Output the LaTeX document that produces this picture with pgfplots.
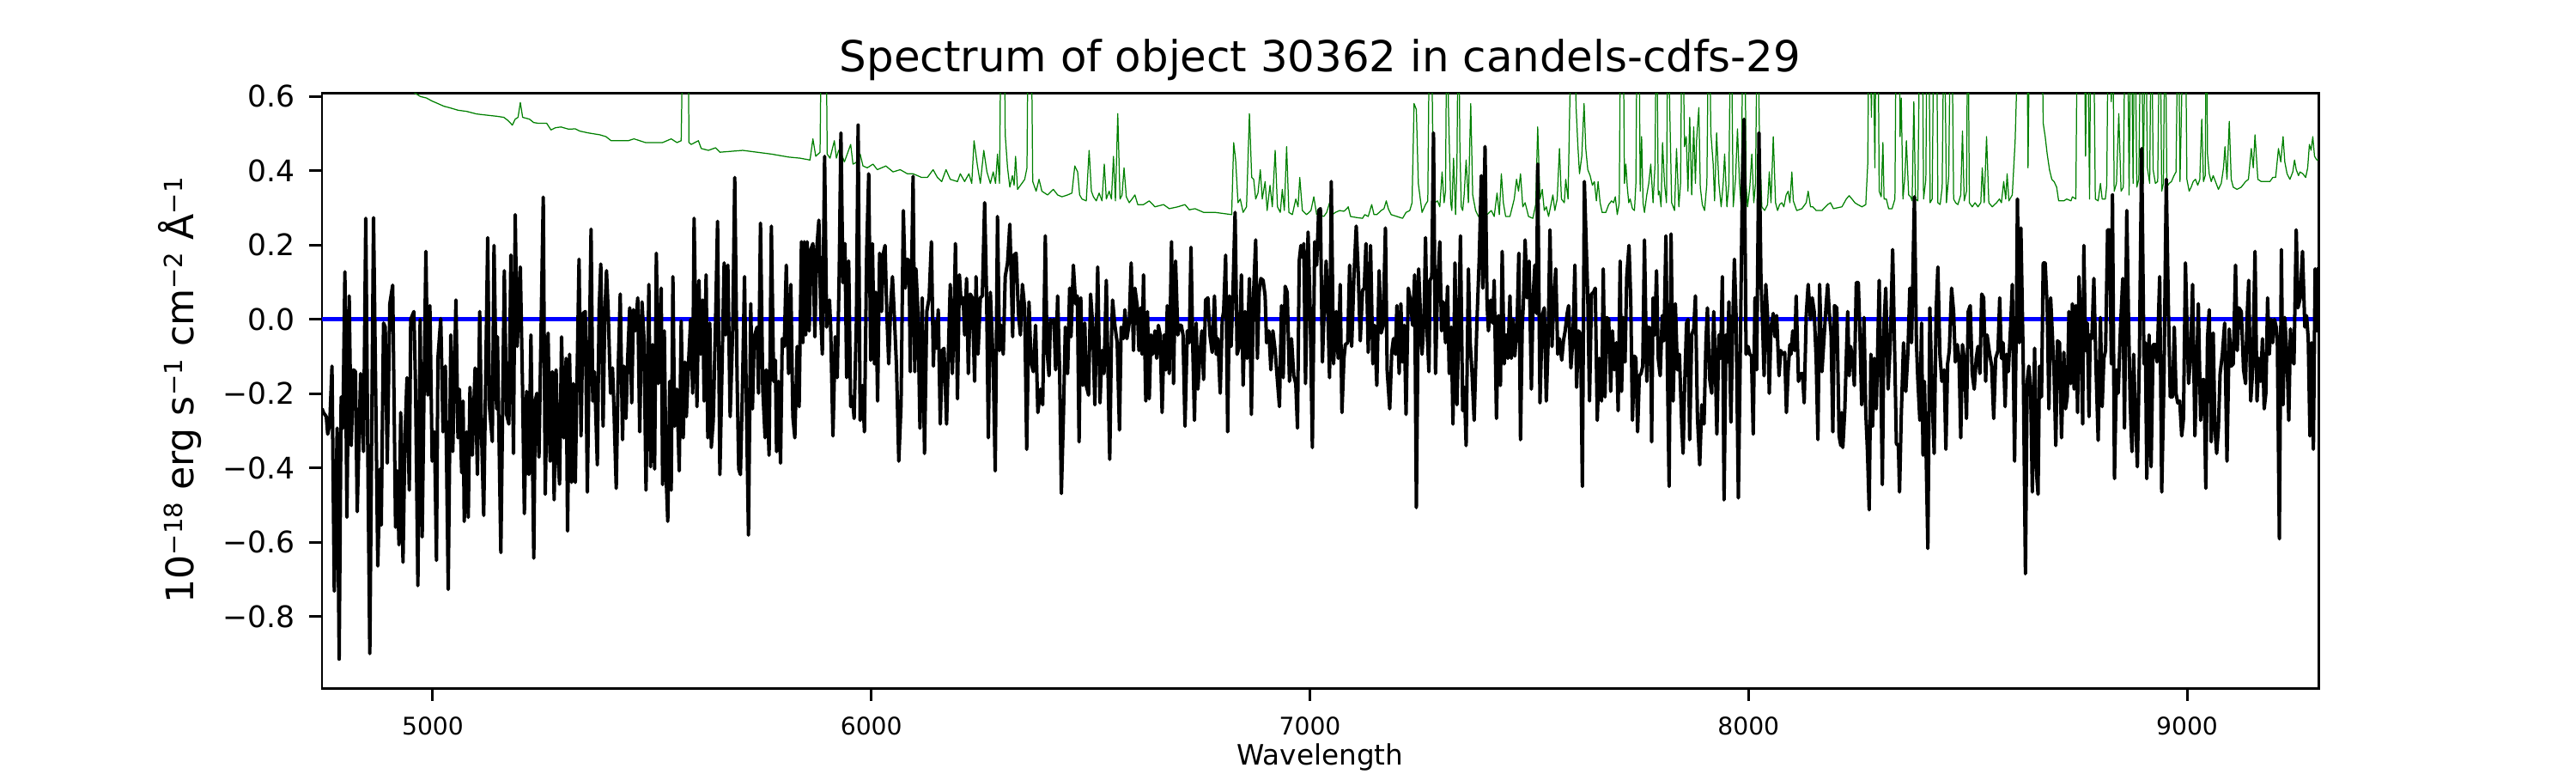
\documentclass[border=0pt]{standalone}
\usepackage{fontspec}
\setmainfont{DejaVu Sans}
\usepackage{pgfplots}
\usepackage{pgfplotstable}
\pgfplotsset{compat=1.18}
\definecolor{mplgreen}{RGB}{0,128,0}
\newcommand\supx[1]{\raisebox{5pt}{\fontsize{10.5}{12}\selectfont #1}}

\pgfplotstableread{
x y
4747.5 -0.240
4750.8 -0.251
4757.3 -0.262
4760.5 -0.309
4765.1 -0.282
4770.3 -0.126
4775.5 -0.732
4782.1 -0.293
4786.6 -0.915
4791.2 -0.209
4795.1 -0.293
4799.7 0.128
4804.3 -0.533
4809.5 0.063
4814.1 -0.340
4819.3 -0.136
4823.8 -0.141
4827.8 -0.518
4835.6 -0.146
4842.1 -0.356
4847.3 0.272
4851.9 -0.356
4856.5 -0.900
4865.0 0.274
4870.2 -0.220
4874.7 -0.664
4880.0 -0.403
4882.6 -0.554
4887.8 -0.010
4891.7 -0.021
4896.3 -0.387
4902.2 0.042
4908.7 0.092
4915.2 -0.560
4919.1 -0.408
4923.0 -0.607
4927.0 -0.251
4932.2 -0.654
4936.7 -0.314
4941.3 -0.157
4946.5 -0.460
4949.8 0.000
4957.0 0.021
4960.9 -0.188
4966.1 -0.717
4971.3 0.000
4975.9 -0.586
4980.5 -0.157
4984.4 0.183
4988.9 -0.204
4993.5 0.037
4998.7 -0.382
5004.0 -0.303
5008.5 -0.649
5011.8 -0.105
5018.3 0.002
5023.5 -0.303
5028.8 -0.126
5035.3 -0.727
5041.2 -0.042
5045.7 -0.356
5052.9 0.052
5057.5 -0.319
5060.7 -0.188
5066.0 -0.413
5069.2 -0.220
5071.8 -0.544
5077.1 -0.303
5081.0 -0.533
5084.9 -0.183
5090.1 -0.366
5096.6 -0.131
5101.9 -0.418
5107.1 0.021
5111.0 -0.293
5116.2 -0.528
5125.3 0.220
5129.3 -0.235
5135.8 -0.329
5139.7 0.199
5145.6 -0.241
5147.5 -0.047
5155.3 -0.628
5163.2 0.131
5168.4 -0.256
5173.6 -0.282
5178.2 0.173
5184.1 -0.361
5188.0 0.282
5192.6 -0.073
5199.7 0.141
5205.0 -0.199
5208.9 -0.523
5214.1 -0.194
5219.3 -0.418
5223.9 -0.042
5230.4 -0.643
5233.7 -0.220
5237.6 -0.199
5242.2 -0.371
5252.0 0.329
5256.5 -0.471
5263.0 -0.037
5267.6 -0.382
5272.8 -0.141
5276.8 -0.486
5281.3 -0.136
5285.9 -0.382
5289.2 -0.444
5293.7 -0.047
5298.9 -0.319
5304.2 -0.105
5307.4 -0.570
5312.0 -0.094
5316.5 -0.439
5320.5 -0.173
5325.0 -0.439
5333.6 0.162
5338.1 -0.314
5342.7 0.016
5347.9 0.021
5352.5 -0.465
5356.4 -0.136
5361.0 0.243
5364.9 -0.220
5368.8 -0.141
5375.3 -0.392
5379.3 0.026
5383.2 0.149
5388.4 -0.288
5392.3 0.010
5396.2 0.131
5400.1 0.021
5405.4 -0.199
5409.9 -0.131
5413.2 -0.241
5418.4 -0.455
5423.0 -0.126
5427.5 0.068
5432.8 -0.324
5436.0 -0.126
5440.6 -0.267
5444.5 -0.105
5449.1 0.031
5453.7 -0.225
5457.6 0.026
5462.1 -0.031
5467.4 0.058
5471.9 -0.303
5477.1 0.047
5481.7 -0.052
5486.3 -0.460
5492.8 0.094
5496.7 -0.397
5501.3 -0.068
5505.9 -0.403
5509.8 0.178
5514.3 -0.173
5520.9 0.084
5524.1 -0.445
5528.0 -0.031
5532.0 -0.418
5535.9 -0.544
5540.4 -0.167
5543.7 -0.460
5547.6 0.115
5551.5 -0.288
5556.8 -0.188
5562.0 -0.408
5566.5 -0.005
5571.1 -0.319
5575.0 -0.115
5578.3 -0.262
5582.9 -0.126
5588.1 0.000
5592.7 -0.199
5595.9 0.272
5602.4 -0.235
5607.0 0.105
5610.9 -0.094
5615.5 0.052
5618.8 -0.220
5623.3 0.120
5627.2 -0.319
5631.8 -0.010
5635.1 -0.345
5639.6 -0.272
5644.9 0.000
5649.4 0.264
5654.7 -0.418
5659.9 -0.115
5664.4 0.152
5667.7 -0.042
5672.9 0.146
5678.1 -0.262
5684.0 -0.026
5688.6 0.382
5693.8 -0.146
5697.7 -0.403
5701.6 -0.418
5706.9 -0.146
5710.8 0.115
5714.7 -0.188
5719.9 -0.581
5725.1 0.042
5729.0 -0.241
5733.0 -0.047
5739.5 -0.021
5742.8 -0.199
5747.3 0.259
5752.5 -0.188
5757.8 -0.319
5760.4 -0.136
5766.9 -0.366
5772.1 0.251
5777.3 -0.167
5781.3 -0.110
5783.9 -0.356
5788.4 -0.167
5793.0 -0.387
5796.9 -0.052
5801.5 -0.073
5806.1 0.146
5811.3 -0.146
5816.5 0.094
5821.1 -0.262
5825.6 -0.319
5830.9 -0.073
5835.4 -0.235
5840.7 0.209
5843.9 -0.063
5847.2 0.209
5850.4 -0.042
5853.7 0.209
5858.3 -0.031
5862.2 0.188
5866.8 0.204
5871.3 -0.047
5875.2 0.183
5880.4 0.267
5885.0 0.000
5888.3 -0.094
5893.5 0.439
5898.1 -0.021
5904.6 0.052
5907.3 -0.021
5912.5 -0.314
5917.7 -0.047
5922.3 -0.157
5926.8 0.126
5930.7 0.502
5935.3 0.099
5939.9 0.204
5943.8 -0.157
5948.4 0.157
5952.9 -0.235
5956.9 -0.209
5960.8 -0.267
5966.0 0.000
5969.9 0.523
5974.5 -0.272
5979.7 -0.178
5984.3 -0.303
5989.5 0.188
5994.1 0.392
5998.6 -0.110
6002.5 0.204
6007.1 -0.120
6010.4 0.073
6014.3 -0.220
6018.9 0.178
6023.4 0.021
6026.7 0.173
6031.3 0.199
6035.2 0.021
6039.7 -0.120
6044.3 0.042
6048.2 0.115
6052.8 0.000
6057.4 -0.126
6062.6 -0.382
6067.8 -0.230
6073.0 0.293
6077.6 0.084
6082.2 0.162
6086.1 0.157
6088.7 -0.141
6091.9 0.126
6095.2 0.385
6099.1 -0.141
6101.7 0.136
6106.3 0.021
6110.9 -0.293
6116.1 0.058
6121.3 -0.361
6126.5 0.021
6131.8 0.058
6137.0 0.209
6141.5 -0.126
6144.8 -0.005
6148.7 -0.078
6152.6 0.026
6157.2 -0.282
6161.8 -0.084
6165.7 -0.078
6171.6 -0.282
6176.8 -0.042
6180.0 0.094
6184.6 -0.146
6187.9 -0.042
6191.8 0.204
6196.4 -0.214
6200.9 0.120
6204.8 0.042
6209.4 0.058
6212.7 -0.042
6217.2 0.110
6221.2 -0.146
6225.7 0.068
6230.3 0.058
6235.5 -0.167
6238.8 0.115
6243.3 -0.094
6248.6 0.058
6253.1 0.063
6258.4 0.314
6262.9 0.058
6266.8 -0.319
6271.4 0.073
6277.9 -0.120
6282.5 -0.408
6287.7 0.277
6292.3 -0.084
6296.2 -0.016
6300.8 -0.094
6305.3 0.115
6310.6 0.152
6315.8 0.256
6319.0 0.115
6322.3 -0.047
6324.9 0.173
6330.1 0.178
6335.4 0.016
6339.9 -0.042
6344.5 0.094
6349.7 0.031
6354.3 -0.350
6359.5 0.047
6364.1 -0.115
6369.3 -0.141
6374.5 -0.016
6379.7 -0.251
6385.6 -0.188
6390.8 -0.230
6396.7 0.225
6400.6 -0.084
6405.2 -0.152
6408.4 0.000
6412.4 -0.010
6416.3 0.000
6420.2 -0.136
6424.8 0.063
6429.3 -0.136
6433.3 -0.469
6437.8 -0.272
6442.4 -0.021
6447.6 -0.146
6452.2 0.084
6455.4 -0.047
6460.6 0.146
6465.9 0.042
6469.8 0.063
6473.7 -0.330
6477.6 0.058
6482.2 -0.178
6486.8 -0.010
6490.1 -0.178
6495.3 -0.204
6499.9 0.068
6504.4 -0.010
6509.7 -0.230
6512.9 -0.042
6516.2 0.141
6521.4 -0.225
6526.0 -0.084
6530.5 -0.146
6535.8 0.105
6539.7 -0.146
6543.6 -0.377
6547.5 -0.052
6550.1 0.052
6555.3 -0.016
6560.6 -0.063
6565.8 -0.298
6569.7 -0.021
6574.9 -0.052
6578.2 0.026
6582.7 -0.052
6588.0 -0.010
6592.5 0.152
6597.8 -0.084
6601.0 0.084
6606.2 0.037
6610.2 -0.084
6614.1 0.031
6617.3 -0.094
6620.6 0.120
6625.8 -0.220
6629.7 0.021
6633.7 -0.214
6637.6 -0.042
6641.5 -0.094
6646.7 -0.031
6650.6 -0.105
6654.5 -0.016
6658.5 -0.042
6663.0 -0.251
6667.6 -0.042
6671.5 -0.136
6674.8 0.037
6679.3 -0.146
6684.5 0.209
6689.1 -0.173
6693.7 0.157
6698.9 -0.042
6702.8 -0.016
6706.7 -0.016
6710.7 -0.042
6715.2 -0.288
6720.4 -0.031
6725.0 -0.063
6728.9 0.194
6732.8 -0.068
6736.8 -0.272
6740.7 -0.010
6744.6 -0.188
6749.2 -0.094
6753.7 -0.031
6757.6 -0.162
6762.2 0.052
6767.4 0.058
6772.0 -0.042
6777.2 -0.089
6782.4 0.063
6786.4 -0.094
6790.3 -0.052
6795.5 -0.199
6800.1 0.000
6803.3 0.021
6807.9 0.173
6812.5 -0.303
6816.4 0.063
6820.3 -0.073
6824.2 0.058
6829.4 0.288
6834.0 -0.094
6839.2 -0.073
6843.8 0.120
6847.7 -0.178
6852.3 0.021
6856.8 -0.105
6862.1 0.110
6866.6 -0.256
6871.2 0.058
6876.4 0.214
6880.3 -0.105
6884.2 0.073
6888.2 0.110
6893.4 0.105
6897.9 0.063
6901.2 -0.063
6906.4 -0.031
6911.0 -0.136
6915.6 -0.031
6920.8 -0.084
6925.4 -0.157
6930.6 -0.235
6935.2 0.037
6939.1 -0.157
6943.6 0.089
6948.2 0.073
6953.4 -0.167
6958.0 -0.052
6963.2 -0.152
6967.8 -0.173
6971.7 -0.293
6975.6 0.157
6979.5 0.199
6982.8 0.167
6986.1 0.204
6990.0 -0.173
6995.8 0.235
7000.4 0.037
7005.6 -0.345
7010.9 0.209
7015.4 0.146
7020.0 0.293
7023.9 0.298
7028.5 -0.115
7033.0 0.042
7037.0 0.157
7040.9 0.021
7044.8 -0.157
7048.7 0.371
7053.9 -0.120
7060.0 0.021
7064.5 -0.105
7069.1 0.094
7073.0 -0.251
7077.6 -0.105
7080.8 -0.068
7086.1 -0.063
7090.6 0.146
7095.2 -0.073
7100.4 0.115
7105.6 0.251
7110.2 0.126
7114.8 -0.058
7120.0 0.078
7123.9 0.084
7127.8 0.204
7133.0 -0.089
7138.3 0.199
7143.5 -0.120
7147.4 -0.016
7152.6 -0.178
7157.8 0.131
7162.4 -0.037
7167.0 -0.016
7172.2 0.246
7176.1 -0.136
7182.0 -0.241
7186.6 -0.089
7190.5 -0.052
7195.0 -0.094
7198.3 0.037
7203.5 -0.146
7207.4 0.042
7211.4 -0.115
7215.3 -0.016
7219.2 -0.256
7224.4 0.084
7229.6 0.047
7234.2 -0.016
7238.8 0.120
7242.7 -0.507
7247.9 0.136
7251.8 0.021
7255.7 -0.094
7260.3 0.005
7263.6 0.220
7267.5 -0.042
7271.4 -0.141
7274.0 0.105
7277.9 0.115
7281.8 0.502
7286.4 -0.146
7291.0 0.084
7296.2 0.209
7300.1 -0.031
7304.0 0.047
7309.2 -0.063
7313.8 0.089
7317.7 -0.146
7322.3 -0.021
7326.2 -0.282
7330.8 0.152
7335.3 -0.230
7339.3 -0.031
7343.2 0.225
7348.4 -0.246
7352.3 -0.183
7356.2 -0.340
7361.4 0.136
7365.4 -0.063
7369.3 -0.136
7374.5 -0.272
7381.0 0.000
7386.2 0.167
7390.8 0.387
7394.1 0.084
7399.3 0.465
7403.9 0.042
7407.1 -0.031
7412.3 0.052
7416.9 -0.010
7420.2 0.105
7425.4 -0.267
7429.9 0.010
7434.5 -0.178
7438.4 0.183
7443.0 -0.120
7447.6 -0.042
7451.5 -0.105
7456.1 0.063
7459.3 -0.105
7463.2 0.000
7467.2 -0.099
7472.4 -0.010
7476.3 0.178
7480.2 -0.324
7484.1 -0.021
7486.7 0.042
7490.7 0.214
7495.2 0.058
7499.8 0.157
7505.0 -0.188
7508.9 0.058
7512.9 0.146
7516.8 0.016
7519.4 0.418
7524.6 -0.225
7529.8 0.010
7534.4 0.031
7539.0 -0.220
7542.9 -0.073
7547.4 0.241
7552.0 -0.073
7555.9 0.047
7560.5 0.136
7565.1 -0.094
7569.0 -0.052
7574.2 -0.110
7578.1 -0.058
7582.0 -0.031
7586.6 0.016
7589.9 0.037
7595.1 -0.131
7599.6 -0.052
7604.2 0.146
7608.1 -0.183
7612.7 -0.031
7617.3 -0.042
7621.2 -0.450
7625.8 0.371
7633.6 0.058
7637.5 -0.220
7642.1 0.068
7646.7 0.073
7650.6 0.084
7655.2 -0.272
7659.7 -0.105
7665.0 -0.220
7668.9 0.136
7672.8 -0.209
7676.7 0.005
7681.3 0.000
7685.8 -0.194
7689.8 -0.031
7694.3 -0.136
7698.9 -0.063
7702.8 -0.246
7707.4 0.157
7710.6 -0.194
7714.6 0.005
7718.5 -0.115
7722.4 0.115
7727.6 0.199
7731.5 0.052
7735.4 -0.272
7740.0 -0.099
7743.3 -0.105
7747.2 -0.303
7751.1 -0.152
7755.0 -0.146
7758.9 -0.126
7762.8 0.214
7768.1 -0.167
7772.6 -0.021
7777.2 -0.026
7779.2 -0.330
7782.4 0.058
7786.3 -0.042
7790.3 0.131
7794.2 -0.105
7798.7 -0.152
7803.3 0.010
7807.2 -0.058
7811.8 0.225
7815.1 -0.126
7819.0 -0.450
7823.5 0.230
7828.1 -0.220
7833.3 0.042
7837.9 -0.136
7842.5 -0.094
7847.7 -0.282
7850.9 -0.361
7854.2 -0.188
7858.8 -0.010
7862.0 0.000
7865.9 -0.324
7870.5 -0.042
7875.1 -0.026
7879.0 0.063
7883.6 -0.262
7888.8 -0.392
7893.4 -0.230
7898.6 -0.282
7903.2 -0.052
7906.4 0.031
7911.6 -0.162
7916.2 -0.199
7920.8 0.021
7924.7 -0.136
7927.9 -0.309
7932.5 -0.042
7936.4 -0.105
7940.4 0.115
7944.3 -0.486
7948.8 -0.042
7952.1 -0.115
7955.4 0.047
7959.9 -0.277
7963.8 -0.031
7967.8 0.162
7971.7 0.010
7976.9 -0.481
7981.5 -0.073
7986.0 0.366
7990.0 0.539
7994.5 -0.094
7999.1 -0.073
8003.0 -0.094
8006.9 -0.099
8010.8 -0.309
8014.7 0.058
8018.7 -0.136
8023.9 0.502
8028.5 0.105
8031.7 0.005
8035.6 -0.152
8039.5 0.094
8043.5 0.010
8047.4 -0.199
8051.3 -0.021
8056.5 0.016
8060.4 -0.047
8064.3 0.010
8069.6 -0.152
8073.5 -0.084
8077.4 -0.094
8082.6 -0.089
8086.5 -0.251
8090.5 -0.136
8094.4 -0.068
8097.0 -0.094
8100.9 -0.031
8105.5 -0.084
8108.7 0.063
8114.0 -0.167
8119.2 -0.146
8123.1 -0.146
8127.0 -0.225
8131.6 0.010
8136.1 0.094
8141.4 0.000
8145.3 0.058
8149.8 0.021
8154.4 -0.110
8158.3 -0.324
8162.2 0.094
8167.5 -0.141
8172.7 -0.042
8177.2 0.042
8180.5 0.094
8184.4 0.016
8188.3 -0.037
8192.3 -0.303
8196.2 0.037
8201.4 0.031
8206.6 -0.314
8210.5 -0.340
8212.5 -0.251
8215.1 -0.345
8219.7 -0.241
8223.0 -0.105
8226.2 0.021
8229.5 -0.152
8232.8 -0.073
8237.3 -0.105
8241.3 -0.178
8245.8 0.099
8250.4 0.099
8254.3 -0.052
8258.2 -0.230
8263.4 0.005
8267.4 -0.251
8271.3 -0.356
8275.2 -0.513
8279.1 -0.094
8283.0 -0.288
8286.9 -0.105
8291.5 -0.241
8298.0 0.105
8301.3 -0.115
8305.2 -0.445
8309.1 -0.010
8313.0 0.084
8318.3 -0.188
8323.5 -0.058
8328.7 0.188
8333.9 -0.126
8337.2 -0.335
8341.8 -0.340
8344.4 -0.465
8348.3 -0.262
8353.5 -0.063
8358.7 -0.194
8363.3 -0.094
8367.9 0.084
8371.8 -0.063
8378.3 0.330
8382.9 -0.063
8386.1 -0.162
8390.7 -0.272
8394.6 -0.010
8397.9 -0.366
8401.1 -0.167
8405.1 -0.366
8409.0 -0.617
8413.5 0.031
8418.8 -0.209
8423.3 -0.361
8427.9 0.026
8431.8 0.141
8436.4 -0.094
8440.9 -0.167
8446.2 -0.136
8450.1 -0.350
8454.0 -0.120
8457.9 -0.084
8463.1 0.084
8467.7 0.021
8471.6 -0.115
8476.2 -0.068
8480.1 -0.105
8484.0 -0.319
8487.9 -0.068
8491.9 -0.105
8497.1 -0.267
8501.0 0.021
8505.6 0.037
8510.1 -0.146
8514.7 -0.188
8519.3 -0.105
8523.2 -0.073
8527.7 -0.146
8531.7 0.068
8536.2 0.058
8540.8 -0.167
8544.1 -0.042
8549.3 -0.089
8554.5 -0.126
8559.1 -0.267
8563.6 -0.105
8568.9 -0.084
8572.8 0.058
8576.7 -0.105
8580.6 -0.063
8585.2 -0.235
8588.4 -0.094
8592.4 -0.141
8597.6 -0.021
8601.5 0.094
8606.7 -0.382
8611.3 0.052
8613.2 0.324
8617.2 -0.063
8621.1 0.246
8626.3 -0.105
8631.5 -0.685
8635.4 -0.167
8639.3 -0.126
8643.3 -0.188
8647.2 -0.465
8652.4 -0.078
8657.0 -0.418
8660.2 -0.471
8663.5 -0.126
8668.1 -0.209
8672.0 0.152
8676.5 0.152
8681.1 0.031
8685.0 -0.241
8688.9 0.058
8692.9 -0.042
8696.8 -0.146
8700.7 -0.340
8704.6 -0.058
8709.2 -0.063
8713.7 -0.319
8719.0 -0.089
8722.9 -0.241
8726.8 -0.209
8730.7 0.021
8734.6 -0.173
8738.5 0.042
8742.5 -0.188
8746.4 0.037
8750.3 -0.251
8753.6 0.115
8758.1 -0.047
8762.0 -0.282
8764.6 0.199
8768.6 -0.084
8772.5 -0.010
8776.4 -0.262
8779.0 -0.042
8782.9 -0.052
8787.5 0.110
8792.1 -0.120
8797.3 -0.326
8802.5 0.005
8806.4 -0.235
8810.3 -0.105
8814.2 -0.084
8818.8 0.241
8823.4 0.241
8827.3 -0.120
8829.9 0.335
8834.5 -0.429
8839.0 -0.136
8843.0 -0.199
8848.2 -0.021
8853.4 0.110
8857.3 -0.293
8862.5 0.293
8866.5 0.000
8870.4 -0.230
8874.3 -0.356
8878.2 -0.094
8882.1 -0.262
8886.7 -0.397
8891.3 -0.099
8896.5 0.460
8901.7 -0.120
8905.0 -0.063
8908.2 -0.429
8913.4 -0.042
8918.0 -0.397
8922.6 -0.068
8927.8 -0.068
8931.7 -0.115
8937.6 0.115
8942.2 -0.465
8947.4 -0.157
8952.6 0.377
8957.2 0.042
8961.7 -0.209
8967.0 -0.209
8970.9 -0.021
8974.8 -0.199
8978.7 -0.225
8983.3 -0.220
8987.8 -0.314
8991.8 -0.267
8996.3 0.152
8999.6 0.000
9003.5 -0.173
9008.1 -0.094
9012.6 0.094
9017.9 -0.314
9022.4 -0.115
9025.7 0.042
9030.9 -0.272
9035.5 -0.162
9038.7 -0.162
9042.7 -0.455
9046.6 -0.052
9050.5 0.026
9055.1 -0.330
9059.6 -0.037
9063.5 -0.293
9067.5 -0.361
9071.4 -0.293
9075.3 -0.146
9080.5 -0.094
9085.7 -0.010
9091.0 -0.382
9096.2 -0.026
9100.7 -0.126
9105.3 -0.120
9110.5 0.146
9114.4 -0.084
9118.4 0.031
9123.6 0.021
9128.8 -0.136
9133.4 -0.173
9136.6 0.000
9140.5 0.105
9145.1 -0.220
9149.7 -0.136
9154.9 0.183
9159.5 -0.220
9164.0 -0.105
9167.9 -0.167
9171.9 -0.052
9175.8 -0.241
9179.7 -0.199
9183.6 0.058
9187.5 -0.094
9191.5 0.000
9195.4 -0.063
9199.3 0.000
9203.2 -0.021
9205.8 -0.052
9210.4 -0.591
9215.0 0.188
9218.9 -0.230
9222.8 0.005
9228.0 -0.105
9231.9 -0.272
9235.8 -0.026
9239.8 -0.105
9243.7 -0.120
9248.9 0.241
9252.8 0.031
9258.0 0.058
9263.2 0.183
9268.5 -0.021
9272.4 0.010
9276.3 -0.052
9280.2 -0.314
9284.1 -0.063
9288.0 -0.350
9292.0 0.136
9295.9 -0.031
9299.5 0.140
}\fluxdata

\pgfplotstableread{
x y
4747.5 0.800
4850.0 0.700
4930.0 0.640
4959.6 0.609
4972.0 0.600
4985.7 0.596
4998.0 0.588
5011.8 0.581
5025.0 0.574
5037.9 0.570
5058.0 0.563
5077.1 0.560
5100.0 0.553
5129.3 0.549
5145.0 0.547
5161.9 0.544
5172.0 0.535
5181.5 0.523
5188.0 0.539
5194.5 0.544
5199.7 0.584
5205.0 0.544
5220.6 0.539
5230.0 0.530
5240.2 0.528
5259.8 0.528
5269.6 0.510
5280.0 0.516
5292.4 0.518
5310.0 0.512
5325.0 0.513
5334.9 0.507
5354.5 0.502
5380.6 0.497
5395.0 0.492
5406.7 0.481
5445.8 0.481
5458.9 0.486
5485.0 0.476
5524.1 0.476
5543.7 0.486
5556.8 0.476
5566.5 0.481
5571.8 0.900
5581.6 0.900
5584.2 0.476
5589.4 0.471
5605.7 0.481
5612.2 0.460
5628.5 0.455
5644.9 0.462
5654.7 0.450
5706.9 0.455
5739.5 0.450
5772.1 0.445
5811.3 0.437
5837.4 0.434
5860.2 0.429
5866.8 0.486
5873.3 0.439
5883.1 0.450
5887.0 0.900
5896.1 0.900
5899.4 0.445
5905.9 0.434
5915.7 0.481
5920.3 0.434
5925.5 0.455
5932.1 0.445
5938.6 0.424
5945.1 0.445
5952.9 0.471
5958.2 0.418
5968.0 0.424
5974.5 0.445
5981.0 0.413
5990.8 0.408
6003.8 0.418
6013.6 0.403
6033.2 0.413
6049.5 0.397
6065.8 0.403
6082.2 0.392
6095.2 0.392
6114.8 0.382
6127.8 0.382
6140.9 0.403
6150.7 0.382
6160.5 0.371
6170.3 0.403
6180.0 0.377
6196.4 0.371
6202.9 0.392
6212.7 0.371
6222.5 0.392
6229.0 0.366
6234.2 0.481
6242.0 0.413
6248.6 0.366
6256.4 0.455
6263.6 0.397
6271.4 0.366
6277.9 0.397
6283.2 0.366
6287.7 0.445
6292.3 0.366
6296.2 0.900
6302.7 0.900
6305.3 0.497
6310.6 0.408
6315.8 0.356
6321.7 0.387
6325.6 0.361
6328.9 0.439
6333.4 0.350
6343.2 0.366
6349.7 0.377
6354.9 0.408
6358.2 0.900
6364.1 0.900
6368.0 0.371
6375.8 0.345
6382.4 0.377
6388.9 0.345
6401.9 0.335
6415.0 0.350
6424.8 0.335
6434.6 0.330
6447.6 0.335
6457.4 0.340
6463.9 0.413
6470.4 0.397
6475.0 0.335
6480.3 0.324
6490.1 0.319
6496.6 0.455
6501.8 0.345
6506.4 0.330
6512.9 0.319
6519.4 0.340
6526.0 0.319
6531.2 0.418
6535.8 0.324
6542.3 0.345
6547.5 0.324
6552.1 0.439
6556.6 0.319
6561.9 0.554
6567.1 0.324
6571.7 0.335
6576.2 0.408
6581.4 0.330
6588.0 0.314
6594.5 0.324
6601.0 0.335
6607.5 0.309
6620.6 0.309
6633.7 0.319
6646.7 0.303
6666.3 0.309
6679.3 0.298
6698.9 0.303
6715.2 0.309
6725.0 0.295
6738.1 0.298
6757.6 0.288
6783.7 0.288
6821.6 0.282
6826.2 0.476
6830.7 0.429
6836.0 0.314
6841.2 0.324
6847.7 0.288
6855.5 0.303
6862.1 0.554
6867.3 0.382
6871.8 0.377
6876.4 0.324
6881.6 0.340
6886.9 0.403
6891.4 0.324
6897.9 0.371
6902.5 0.293
6909.0 0.361
6914.3 0.303
6920.8 0.455
6926.0 0.303
6932.5 0.288
6937.1 0.350
6941.7 0.293
6946.9 0.465
6952.1 0.288
6960.0 0.282
6967.8 0.324
6973.0 0.303
6976.9 0.382
6982.8 0.293
6992.6 0.282
7002.4 0.293
7008.9 0.330
7015.4 0.282
7022.0 0.282
7031.7 0.277
7038.3 0.288
7044.8 0.314
7051.3 0.282
7058.0 0.288
7067.8 0.293
7077.6 0.291
7084.1 0.298
7087.4 0.303
7092.6 0.277
7106.9 0.274
7120.0 0.272
7125.2 0.282
7133.0 0.277
7140.9 0.309
7146.1 0.282
7152.6 0.282
7162.4 0.293
7168.9 0.298
7174.2 0.319
7178.7 0.298
7185.2 0.282
7198.3 0.277
7211.4 0.272
7219.2 0.288
7227.7 0.293
7232.9 0.314
7237.5 0.581
7242.7 0.565
7247.2 0.366
7250.5 0.335
7255.7 0.288
7263.6 0.309
7268.8 0.319
7273.3 0.900
7276.6 0.900
7279.9 0.502
7284.4 0.314
7291.0 0.319
7296.2 0.303
7301.4 0.397
7306.0 0.314
7309.2 0.345
7312.5 0.900
7315.8 0.575
7321.0 0.314
7323.6 0.293
7327.5 0.434
7332.1 0.282
7335.3 0.418
7338.6 0.900
7341.9 0.471
7345.1 0.303
7348.4 0.293
7351.7 0.335
7356.2 0.429
7361.4 0.314
7366.7 0.581
7371.2 0.335
7377.8 0.293
7384.3 0.277
7390.8 0.277
7403.9 0.282
7413.7 0.293
7420.2 0.277
7426.7 0.340
7431.9 0.282
7436.5 0.392
7441.1 0.314
7446.3 0.277
7456.1 0.277
7465.9 0.324
7471.1 0.377
7475.7 0.345
7480.2 0.392
7485.4 0.303
7490.7 0.314
7498.5 0.277
7508.3 0.272
7514.8 0.309
7519.4 0.518
7524.6 0.324
7529.8 0.350
7534.4 0.293
7539.0 0.303
7544.2 0.277
7554.0 0.335
7558.5 0.293
7563.8 0.324
7569.0 0.460
7573.5 0.324
7580.1 0.314
7583.3 0.377
7588.6 0.324
7593.1 0.612
7596.4 0.900
7602.9 0.900
7606.8 0.575
7610.8 0.471
7614.7 0.392
7619.9 0.439
7625.1 0.581
7629.0 0.460
7633.6 0.403
7638.9 0.387
7644.1 0.361
7648.6 0.371
7653.2 0.319
7657.1 0.371
7661.7 0.314
7666.3 0.288
7674.7 0.288
7681.3 0.309
7687.8 0.319
7692.4 0.314
7696.3 0.330
7700.8 0.282
7705.4 0.314
7708.7 0.900
7713.9 0.900
7717.2 0.366
7720.4 0.418
7723.7 0.356
7727.0 0.314
7730.2 0.324
7735.4 0.298
7740.0 0.293
7743.3 0.366
7746.5 0.900
7749.8 0.900
7753.1 0.345
7756.3 0.492
7759.6 0.314
7762.8 0.288
7768.1 0.335
7772.6 0.366
7777.2 0.418
7782.4 0.314
7787.0 0.418
7790.3 0.900
7794.2 0.335
7796.8 0.345
7800.7 0.303
7804.0 0.476
7808.5 0.366
7813.1 0.314
7816.4 0.900
7820.3 0.575
7824.8 0.314
7831.4 0.293
7835.9 0.460
7841.2 0.303
7845.1 0.366
7849.0 0.900
7854.2 0.465
7858.1 0.492
7862.0 0.345
7866.0 0.544
7870.5 0.335
7875.1 0.518
7879.0 0.366
7881.6 0.481
7886.8 0.570
7890.1 0.356
7894.7 0.309
7899.9 0.293
7905.1 0.366
7909.7 0.900
7914.2 0.502
7919.5 0.418
7922.7 0.319
7927.3 0.502
7932.5 0.366
7937.7 0.303
7942.3 0.366
7945.6 0.445
7950.8 0.303
7955.4 0.366
7959.9 0.900
7965.2 0.303
7970.4 0.377
7974.9 0.513
7979.5 0.366
7983.4 0.303
7988.0 0.900
7991.3 0.900
7994.5 0.366
7997.8 0.303
8003.0 0.356
8007.6 0.445
8012.1 0.314
8016.0 0.366
8020.6 0.900
8025.2 0.471
8030.4 0.303
8036.9 0.293
8043.5 0.309
8047.4 0.397
8051.3 0.314
8056.5 0.492
8061.7 0.314
8066.3 0.293
8070.9 0.309
8076.1 0.314
8080.7 0.303
8085.9 0.335
8090.5 0.345
8094.4 0.314
8098.9 0.397
8102.2 0.319
8110.0 0.293
8121.8 0.298
8131.6 0.314
8136.1 0.345
8141.4 0.303
8146.6 0.303
8154.4 0.293
8167.5 0.293
8180.5 0.309
8187.0 0.314
8193.6 0.298
8213.1 0.303
8223.0 0.324
8229.5 0.333
8236.0 0.324
8242.6 0.314
8249.1 0.309
8258.9 0.303
8267.4 0.309
8271.9 0.418
8275.2 0.900
8280.4 0.544
8283.0 0.900
8288.2 0.408
8291.5 0.900
8294.8 0.900
8298.0 0.345
8302.6 0.330
8306.5 0.476
8309.1 0.324
8314.3 0.324
8319.6 0.298
8327.4 0.298
8333.9 0.324
8337.2 0.900
8343.7 0.900
8345.7 0.492
8348.3 0.596
8352.2 0.324
8356.8 0.387
8360.0 0.481
8365.2 0.335
8369.8 0.330
8373.1 0.319
8377.0 0.586
8380.9 0.324
8386.1 0.319
8391.3 0.900
8395.9 0.900
8399.2 0.324
8404.4 0.377
8407.7 0.900
8410.9 0.900
8414.2 0.314
8418.8 0.324
8423.3 0.900
8428.5 0.900
8431.8 0.314
8437.0 0.309
8441.6 0.356
8446.2 0.900
8451.4 0.314
8456.6 0.387
8461.2 0.900
8463.1 0.900
8467.7 0.324
8472.3 0.314
8477.5 0.309
8484.0 0.335
8487.9 0.507
8491.9 0.319
8497.1 0.345
8500.3 0.900
8503.6 0.314
8510.1 0.303
8516.6 0.314
8523.2 0.303
8529.7 0.314
8533.0 0.408
8537.5 0.314
8542.8 0.492
8548.0 0.314
8555.8 0.303
8565.6 0.314
8572.1 0.324
8576.7 0.314
8581.9 0.371
8586.5 0.324
8589.7 0.392
8593.7 0.319
8601.5 0.335
8608.0 0.481
8613.2 0.700
8620.0 0.900
8634.1 0.900
8637.4 0.408
8642.0 0.900
8668.1 0.900
8672.0 0.528
8676.5 0.492
8681.1 0.445
8686.3 0.403
8691.6 0.377
8696.8 0.371
8702.6 0.356
8707.2 0.319
8719.0 0.319
8725.5 0.324
8735.3 0.319
8738.5 0.330
8746.4 0.324
8750.3 0.900
8764.6 0.900
8768.6 0.439
8772.5 0.900
8777.7 0.324
8781.0 0.900
8786.1 0.900
8790.8 0.324
8797.3 0.319
8802.5 0.366
8806.4 0.324
8813.6 0.324
8816.9 0.361
8820.8 0.900
8824.7 0.900
8827.3 0.586
8829.9 0.900
8833.8 0.345
8839.0 0.366
8844.3 0.554
8849.5 0.345
8854.7 0.356
8859.3 0.900
8863.8 0.900
8867.8 0.335
8872.3 0.900
8876.9 0.366
8880.8 0.900
8885.4 0.356
8889.9 0.377
8895.2 0.900
8900.4 0.366
8905.0 0.900
8909.5 0.408
8914.8 0.366
8918.7 0.900
8922.6 0.403
8927.8 0.366
8933.0 0.371
8938.2 0.900
8942.2 0.345
8946.1 0.366
8950.0 0.900
8953.9 0.356
8959.1 0.366
8964.4 0.371
8970.2 0.387
8974.8 0.397
8980.0 0.900
8983.9 0.371
8987.8 0.596
8991.8 0.900
8995.7 0.900
8999.6 0.377
9004.8 0.345
9009.4 0.356
9013.9 0.371
9019.2 0.377
9024.4 0.361
9029.0 0.377
9033.5 0.539
9037.4 0.371
9041.4 0.387
9044.0 0.900
9046.6 0.445
9050.5 0.392
9055.1 0.371
9059.6 0.387
9064.8 0.371
9071.4 0.350
9077.9 0.366
9083.1 0.408
9086.4 0.465
9091.0 0.377
9096.2 0.533
9100.7 0.377
9105.3 0.356
9113.8 0.350
9123.6 0.356
9133.4 0.371
9139.9 0.377
9146.4 0.460
9151.0 0.408
9154.9 0.497
9161.4 0.377
9169.3 0.371
9179.1 0.371
9188.8 0.371
9195.4 0.382
9201.9 0.382
9208.4 0.460
9213.6 0.424
9218.9 0.492
9222.8 0.424
9228.0 0.392
9234.5 0.377
9241.1 0.397
9245.0 0.429
9248.9 0.403
9254.1 0.387
9257.4 0.397
9263.9 0.392
9270.4 0.382
9275.0 0.408
9278.9 0.471
9282.8 0.455
9286.7 0.492
9290.6 0.439
9295.9 0.429
9299.5 0.430
}\skydata

\begin{document}
\begin{tikzpicture}
\path[use as bounding box] (0,0) rectangle (1084pt,325.2pt);
\begin{axis}[
  at={(135.5pt,35.77pt)}, anchor=south west,
  width=840.1pt, height=250.4pt, scale only axis,
  xmin=4747.5, xmax=9299.5, ymin=-0.993, ymax=0.610,
  axis line style={line width=1.08pt},
  every tick/.style={black, line width=1.08pt},
  major tick length=5.24pt,
  tick align=outside,
  xtick pos=lower, ytick pos=left,
  minor tick num=0,
  xtick={5000,6000,7000,8000,9000},
  xticklabels={5000,6000,7000,8000,9000},
  ytick={-0.8,-0.6,-0.4,-0.2,0,0.2,0.4,0.6},
  yticklabels={−0.8,−0.6,−0.4,−0.2,0.0,0.2,0.4,0.6},
  xticklabel style={font=\fontsize{10.2}{12}\selectfont, anchor=base, inner sep=0pt, yshift=-14.3pt},
  yticklabel style={font=\fontsize{12.5}{15}\selectfont, anchor=east, inner sep=0pt, xshift=-6.0pt},
  title={Spectrum of object 30362 in candels-cdfs-29},
  title style={at={(0.5,1)}, anchor=base, yshift=3.0pt, inner sep=0pt, font=\fontsize{18}{21}\selectfont},
  xlabel={Wavelength},
  xlabel style={at={(0.5,0)}, anchor=base, yshift=-32.5pt, inner sep=0pt, font=\fontsize{11.8}{14}\selectfont},
  ylabel={10\supx{−18} erg s\supx{−1} cm\supx{−2} Å\supx{−1}},
  ylabel style={at={(-0.0641,0.5)}, anchor=base, inner sep=0pt, font=\fontsize{16}{19}\selectfont},
  clip=true,
]
\addplot[blue, line width=1.95pt] coordinates {(4747.5,0) (9299.5,0)};
\addplot[mplgreen, line width=0.45pt, line join=round] table[x=x, y=y] {\skydata};
\addplot[black, line width=1.45pt, line join=round] table[x=x, y=y] {\fluxdata};
\end{axis}
\end{tikzpicture}
\end{document}
